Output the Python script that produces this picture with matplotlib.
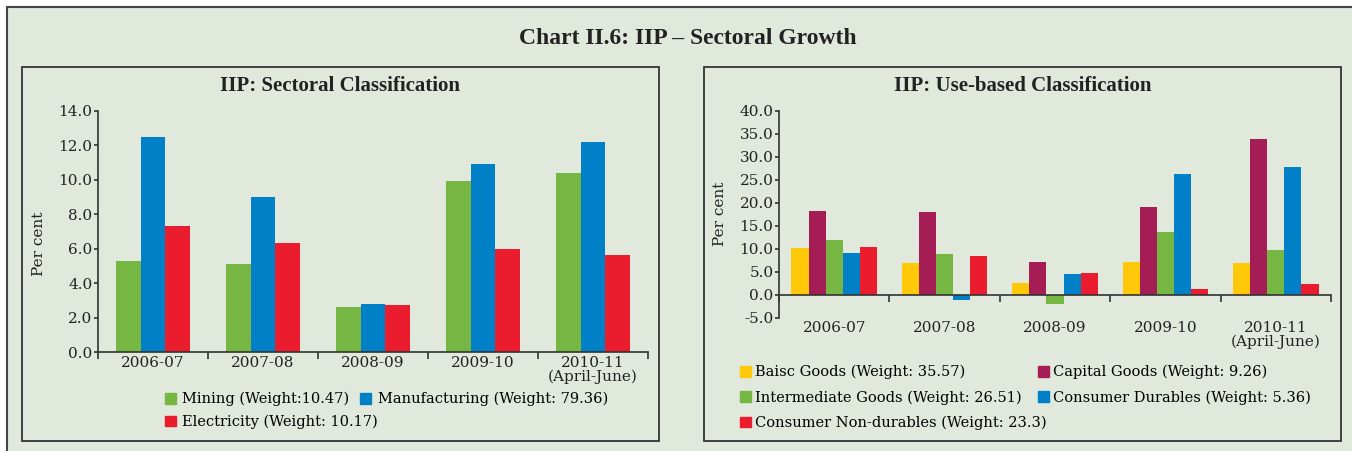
import numpy as np
import matplotlib.pyplot as plt
from matplotlib.patches import Rectangle, Patch
from matplotlib.ticker import FormatStrFormatter

# data
years = ["2006-07", "2007-08", "2008-09", "2009-10", "2010-11\n(April-June)"]

mining = [5.3, 5.1, 2.6, 9.9, 10.4]
manufacturing = [12.5, 9.0, 2.8, 10.9, 12.2]
electricity = [7.3, 6.3, 2.7, 6.0, 5.6]

basic = [10.1, 6.9, 2.5, 7.1, 6.8]
capital = [18.1, 17.9, 7.2, 19.1, 33.9]
intermediate = [11.9, 8.9, -2.0, 13.6, 9.7]
cons_durables = [9.1, -1.1, 4.4, 26.2, 27.8]
cons_nondurables = [10.4, 8.5, 4.7, 1.2, 2.3]

left_labels = ["Mining (Weight:10.47)", "Manufacturing (Weight: 79.36)",
               "Electricity (Weight: 10.17)"]
right_labels = ["Baisc Goods (Weight: 35.57)", "Capital Goods (Weight: 9.26)",
                "Intermediate Goods (Weight: 26.51)", "Consumer Durables (Weight: 5.36)",
                "Consumer Non-durables (Weight: 23.3)"]

GREEN = "#76b743"
BLUE = "#0080c6"
RED = "#ec1c2f"
YELLOW = "#ffc90a"
MAROON = "#a51d55"
BG = "#e0e9dc"
DARK = "#333333"

W, H = 1352, 451
fig = plt.figure(figsize=(W / 100, H / 100), dpi=100, facecolor="white")
plt.rcParams["font.family"] = "DejaVu Serif"


def fx(px):
    return px / W


def fy(py):
    return 1 - py / H


# outer frame and panels (drawn behind the axes)
fig.patches.append(Rectangle((fx(7), fy(470)), fx(1400), 463 / H, transform=fig.transFigure,
                             facecolor=BG, edgecolor="#444444", lw=1.5, zorder=-2))
for x0, x1 in [(22, 659), (704, 1341)]:
    fig.patches.append(Rectangle((fx(x0), fy(441)), fx(x1 - x0), (441 - 67) / H,
                                 transform=fig.transFigure, facecolor=BG,
                                 edgecolor=DARK, lw=1.3, zorder=-1))

fig.text(fx(688), fy(38), "Chart II.6: IIP \u2013 Sectoral Growth", ha="center", va="center",
         family="Liberation Serif", weight="bold", fontsize=17, color="#222222")
fig.text(fx(340), fy(86), "IIP: Sectoral Classification", ha="center", va="center",
         family="Liberation Serif", weight="bold", fontsize=15, color="#222222")
fig.text(fx(1023), fy(86), "IIP: Use-based Classification", ha="center", va="center",
         family="Liberation Serif", weight="bold", fontsize=15, color="#222222")


def style_axis(ax, ymin, ymax, step, pad):
    ax.set_facecolor("none")
    ax.set_xlim(-0.5, len(years) - 0.5)
    ax.set_ylim(ymin, ymax)
    ax.set_yticks(np.arange(ymin, ymax + 0.01, step))
    ax.yaxis.set_major_formatter(FormatStrFormatter("%.1f"))
    for s in ["top", "right"]:
        ax.spines[s].set_visible(False)
    ax.spines["bottom"].set_position(("data", 0))
    for s in ["left", "bottom"]:
        ax.spines[s].set_color(DARK)
        ax.spines[s].set_linewidth(1.2)
    ax.set_xticks(np.arange(-0.5, len(years), 1.0))
    ax.set_xticklabels([])
    ax.set_xticks(np.arange(len(years)), minor=True)
    ax.set_xticklabels(years, minor=True)
    ax.tick_params(axis="x", which="major", length=5, direction="out", color=DARK, width=1.2)
    ax.tick_params(axis="x", which="minor", length=0, pad=pad, labelsize=11, labelcolor="#222222")
    ax.tick_params(axis="y", length=3, color=DARK, width=1.2, labelsize=11, labelcolor="#222222", pad=1)
    for t in ax.get_xticklabels(minor=True):
        t.set_linespacing(0.95)
    ax.set_ylabel("Per cent", fontsize=11, color="#222222")


# left chart
ax1 = fig.add_axes([fx(98), fy(352), fx(550), (352 - 110.7) / H])
x = np.arange(len(years))
w1 = 0.222
ax1.bar(x - w1, mining, w1, color=GREEN, label=left_labels[0])
ax1.bar(x, manufacturing, w1, color=BLUE, label=left_labels[1])
ax1.bar(x + w1, electricity, w1, color=RED, label=left_labels[2])
style_axis(ax1, 0, 14, 2, 3)
ax1.yaxis.set_label_coords(-0.095, 0.45)

h1 = [Patch(color=GREEN), Patch(color=RED), Patch(color=BLUE)]
fig.legend(h1, [left_labels[0], left_labels[2], left_labels[1]], ncol=2,
           loc="upper left", bbox_to_anchor=(fx(165), fy(392)), frameon=False,
           fontsize=10.5, handlelength=0.75, handleheight=0.75, handletextpad=0.45,
           columnspacing=-1.25, labelspacing=0.58, borderpad=0, borderaxespad=0)

# right chart
ax2 = fig.add_axes([fx(779), fy(317.7), fx(552), (317.7 - 110.7) / H])
w2 = 0.155
series = [basic, capital, intermediate, cons_durables, cons_nondurables]
colors = [YELLOW, MAROON, GREEN, BLUE, RED]
for i, (vals, c) in enumerate(zip(series, colors)):
    ax2.bar(x + (i - 2) * w2, vals, w2, color=c, label=right_labels[i])
style_axis(ax2, -5, 40, 5, 19)
ax2.yaxis.set_label_coords(-0.095, 0.5)

h2 = [Patch(color=c) for c in colors]
order = [0, 2, 4, 1, 3]
fig.legend([h2[i] for i in order], [right_labels[i] for i in order], ncol=2,
           loc="upper left", bbox_to_anchor=(fx(740), fy(365)), frameon=False,
           fontsize=10.5, handlelength=0.75, handleheight=0.75, handletextpad=0.3,
           columnspacing=-0.63, labelspacing=0.75, borderpad=0, borderaxespad=0)

fig.savefig("out.png", dpi=100, facecolor="white")
